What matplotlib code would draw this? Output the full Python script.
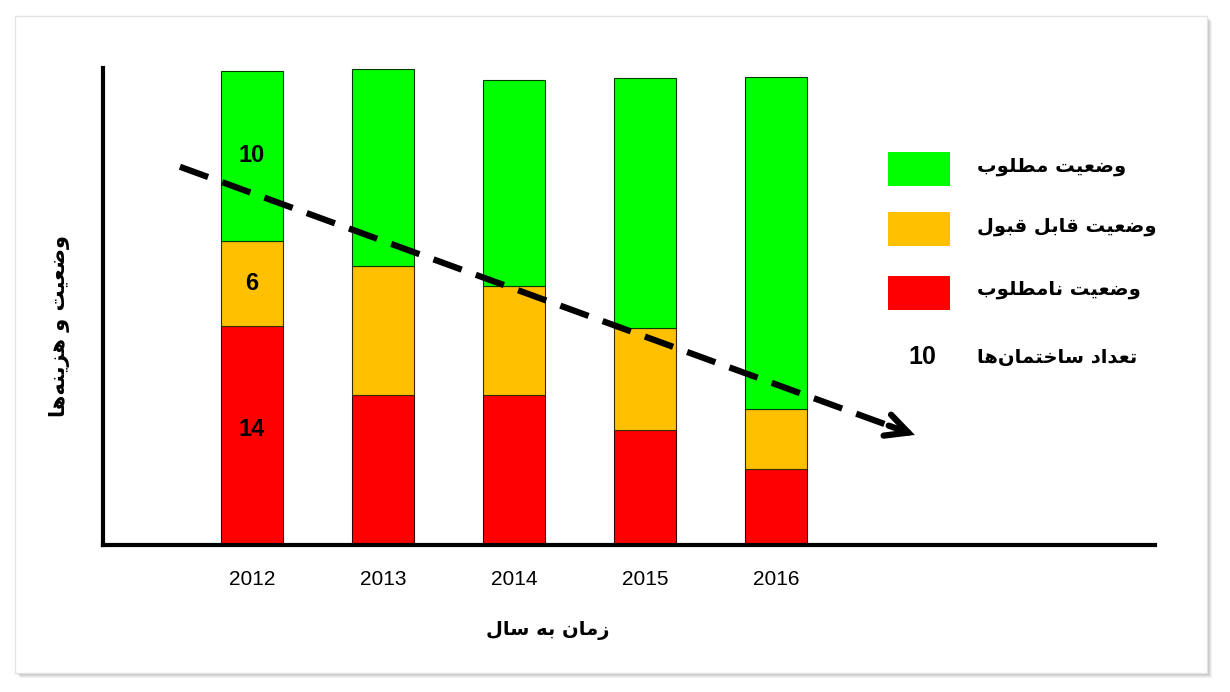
import matplotlib
matplotlib.use("Agg")
import matplotlib.pyplot as plt
from matplotlib.patches import Rectangle

# ---------------- data ----------------
years = ["2012", "2013", "2014", "2015", "2016"]
bad = [14.1, 9.7, 9.7, 7.4, 4.9]          # وضعیت نامطلوب
acceptable = [5.5, 8.3, 7.0, 6.6, 3.9]    # وضعیت قابل قبول
good = [11.0, 12.7, 13.3, 16.1, 21.4]     # وضعیت مطلوب
labels_2012 = ["14", "6", "10"]
legend_labels = ["وضعیت مطلوب", "وضعیت قابل قبول", "وضعیت نامطلوب"]
count_label = "تعداد ساختمان‌ها"
count_example = "10"
xlabel = "زمان به سال"
ylabel = "وضعیت و هزینه‌ها"
trend_start = (-0.55, 24.4)
trend_end = (5.06, 7.1)

colors = {"good": "#00ff00", "acc": "#ffc000", "bad": "#ff0000"}

# ------------- minimal Persian shaping (logical -> visual presentation forms) -------------
FORMS = {  # isolated, final, initial, medial
    'ا': ('\uFE8D', '\uFE8E', None, None),
    'ب': ('\uFE8F', '\uFE90', '\uFE91', '\uFE92'),
    'ت': ('\uFE95', '\uFE96', '\uFE97', '\uFE98'),
    'خ': ('\uFEA5', '\uFEA6', '\uFEA7', '\uFEA8'),
    'د': ('\uFEA9', '\uFEAA', None, None),
    'ز': ('\uFEAF', '\uFEB0', None, None),
    'س': ('\uFEB1', '\uFEB2', '\uFEB3', '\uFEB4'),
    'ض': ('\uFEBD', '\uFEBE', '\uFEBF', '\uFEC0'),
    'ط': ('\uFEC1', '\uFEC2', '\uFEC3', '\uFEC4'),
    'ع': ('\uFEC9', '\uFECA', '\uFECB', '\uFECC'),
    'ق': ('\uFED5', '\uFED6', '\uFED7', '\uFED8'),
    'ل': ('\uFEDD', '\uFEDE', '\uFEDF', '\uFEE0'),
    'م': ('\uFEE1', '\uFEE2', '\uFEE3', '\uFEE4'),
    'ن': ('\uFEE5', '\uFEE6', '\uFEE7', '\uFEE8'),
    'ه': ('\uFEE9', '\uFEEA', '\uFEEB', '\uFEEC'),
    'و': ('\uFEED', '\uFEEE', None, None),
    'ی': ('\uFEEF', '\uFEF0', '\uFEF3', '\uFEF4'),
}


def shape(text):
    chars = list(text)
    out = []
    n = len(chars)
    for i, c in enumerate(chars):
        if c not in FORMS:
            if c != '\u200c':
                out.append(c)
            continue
        prev = chars[i - 1] if i > 0 else None
        nxt = chars[i + 1] if i < n - 1 else None
        join_prev = prev in FORMS and FORMS[prev][2] is not None
        join_next = nxt in FORMS and FORMS[c][2] is not None
        iso, fin, ini, med = FORMS[c]
        if join_prev and join_next:
            out.append(med)
        elif join_prev:
            out.append(fin)
        elif join_next:
            out.append(ini)
        else:
            out.append(iso)
    return ''.join(out)[::-1]


FA = ["DejaVu Sans"]
NUM = ["Liberation Sans", "DejaVu Sans"]

W, H = 1230, 692
fig = plt.figure(figsize=(W / 100, H / 100), dpi=100)
fig.patch.set_facecolor("white")


def fx(px):
    return px / W


def fy(py):
    return 1 - py / H


# card with soft shadow
for k, a in enumerate([0.05, 0.05, 0.06, 0.07, 0.08]):
    off = 5 - k
    fig.patches.append(Rectangle((fx(15 + off), fy(673 + off)), fx(1192), 657 / H,
                                 transform=fig.transFigure, facecolor="black",
                                 edgecolor="none", alpha=a, zorder=0))
fig.patches.append(Rectangle((fx(15), fy(673)), fx(1192), 657 / H,
                             transform=fig.transFigure, facecolor="white",
                             edgecolor="#e4e4e4", lw=1, zorder=1))

# axes: left 103, right 1155, top 68, bottom 545 (px)
ax = fig.add_axes([fx(103), fy(545), fx(1155 - 103), (545 - 68) / H])
ax.set_facecolor("none")
ax.set_zorder(2)

x = list(range(len(years)))
w = 0.473
b2 = [b + a for b, a in zip(bad, acceptable)]
ax.bar(x, bad, w, color=colors["bad"], edgecolor="#3a0000", lw=0.8, zorder=2)
ax.bar(x, acceptable, w, bottom=bad, color=colors["acc"], edgecolor="#3a2a00", lw=0.8, zorder=2)
ax.bar(x, good, w, bottom=b2, color=colors["good"], edgecolor="#003a00", lw=0.8, zorder=2)

ax.set_xlim(-1.137, 6.893)
ax.set_ylim(0, 30.77)
for s in ["top", "right"]:
    ax.spines[s].set_visible(False)
ax.spines["left"].set_linewidth(3)
ax.spines["bottom"].set_linewidth(3)
ax.set_yticks([])
ax.set_xticks(x)
ax.set_xticklabels(years, fontsize=15, family=NUM)
ax.tick_params(axis="x", length=0, pad=18)

# value labels on 2012 bar
lab_y = [bad[0] * 0.53, bad[0] + acceptable[0] * 0.5, b2[0] + good[0] * 0.5]
for ly, t in zip(lab_y, labels_2012):
    ax.text(0, ly, t, ha="center", va="center", fontsize=17, fontweight="bold",
            family=NUM, zorder=5)

# dashed trend arrow
(x0, y0), (x1, y1) = trend_start, trend_end
ax.plot([x0, x1 - 0.12], [y0, y1 + 0.36], ls=(0, (4.8, 2.4)), lw=4.5, color="black",
        zorder=4, dash_capstyle="butt")
ax.annotate("", xy=(x1, y1), xytext=(x1 - 0.2, y1 + 0.6),
            arrowprops=dict(arrowstyle="->,head_length=1.6,head_width=0.8", lw=4.5,
                            color="black", shrinkA=0, shrinkB=0,
                            joinstyle="miter", capstyle="round"), zorder=4)

# axis titles
fig.text(fx(548), fy(631), shape(xlabel), ha="center", va="center", fontsize=14,
         fontweight="bold", family=FA)
fig.text(fx(60), fy(326), shape(ylabel), ha="center", va="center", fontsize=15,
         fontweight="bold", family=FA, rotation=90)

# legend
leg_cols = [colors["good"], colors["acc"], colors["bad"]]
leg_tops = [152, 212, 276]
for c, t, top in zip(leg_cols, legend_labels, leg_tops):
    fig.patches.append(Rectangle((fx(888), fy(top + 34)), fx(62), 34 / H,
                                 transform=fig.transFigure, facecolor=c,
                                 edgecolor="none", zorder=3))
    fig.text(fx(977), fy(top + 14), shape(t), ha="left", va="center", fontsize=14,
             fontweight="bold", family=FA)
fig.text(fx(922), fy(357), count_example, ha="center", va="center", fontsize=18,
         fontweight="bold", family=NUM)
fig.text(fx(977), fy(357), shape(count_label), ha="left", va="center", fontsize=14,
         fontweight="bold", family=FA)

fig.savefig("out.png", dpi=100, facecolor="white")
